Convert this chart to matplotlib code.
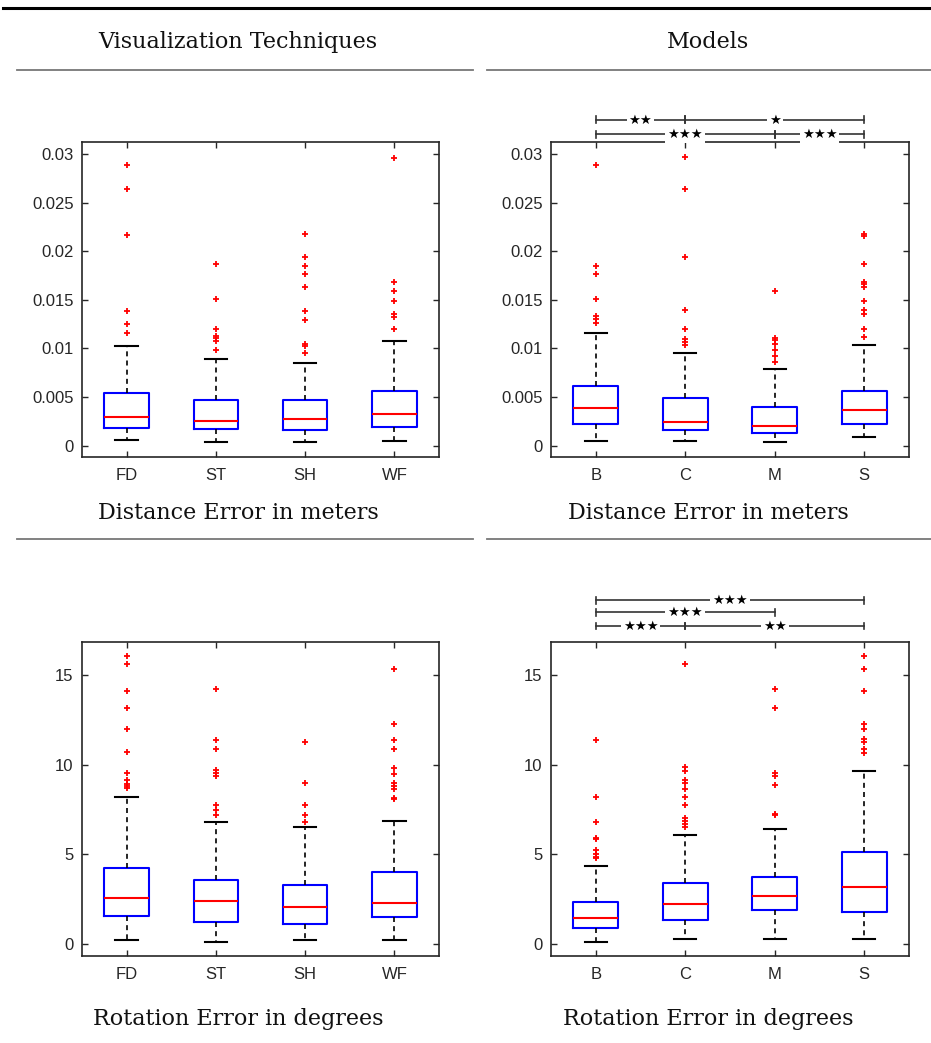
import matplotlib
matplotlib.use("Agg")
import matplotlib.pyplot as plt
from matplotlib.lines import Line2D
from matplotlib.transforms import blended_transform_factory

# ── Data ──────────────────────────────────────────────────────────────────────
tech_labels  = ["FD", "ST", "SH", "WF"]
model_labels = ["B", "C", "M", "S"]

# distance error (m) by visualization technique
dist_tech_med    = [0.00295, 0.00257, 0.00278, 0.00326]
dist_tech_q1     = [0.00178, 0.00175, 0.00165, 0.00189]
dist_tech_q3     = [0.00545, 0.00470, 0.00473, 0.00566]
dist_tech_whislo = [0.00055, 0.00034, 0.00034, 0.00048]
dist_tech_whishi = [0.01025, 0.00888, 0.00847, 0.01080]
dist_tech_fliers = [
    [0.02883, 0.02637, 0.02163, 0.01389, 0.01255, 0.01159],
    [0.01865, 0.01512, 0.01197, 0.01125, 0.01104, 0.01080, 0.00984],
    [0.02174, 0.01944, 0.01845, 0.01762, 0.01629, 0.01389, 0.01289,
     0.01046, 0.01029, 0.00950],
    [0.02962, 0.01680, 0.01587, 0.01485, 0.01358, 0.01323, 0.01200],
]

# distance error (m) by model
dist_model_med    = [0.00391, 0.00247, 0.00206, 0.00363]
dist_model_q1     = [0.00226, 0.00165, 0.00130, 0.00223]
dist_model_q3     = [0.00617, 0.00494, 0.00401, 0.00562]
dist_model_whislo = [0.00051, 0.00048, 0.00034, 0.00093]
dist_model_whishi = [0.01162, 0.00953, 0.00785, 0.01039]
dist_model_fliers = [
    [0.02883, 0.01848, 0.01762, 0.01512, 0.01334, 0.01303, 0.01262],
    [0.02966, 0.02637, 0.01944, 0.01392, 0.01200, 0.01094, 0.01063, 0.01039],
    [0.01591, 0.01111, 0.01090, 0.01049, 0.00987, 0.00926, 0.00857],
    [0.02174, 0.02160, 0.01865, 0.01687, 0.01663, 0.01629, 0.01485,
     0.01399, 0.01358, 0.01197, 0.01114],
]

# rotation error (deg) by visualization technique
rot_tech_med    = [2.56, 2.39, 2.07, 2.30]
rot_tech_q1     = [1.59, 1.21, 1.14, 1.49]
rot_tech_q3     = [4.24, 3.57, 3.29, 4.04]
rot_tech_whislo = [0.24, 0.11, 0.21, 0.24]
rot_tech_whishi = [8.20, 6.82, 6.54, 6.87]
rot_tech_fliers = [
    [16.08, 15.62, 14.14, 13.19, 12.01, 10.72, 9.53, 9.17, 8.91, 8.80, 8.69],
    [14.25, 11.38, 10.87, 9.70, 9.55, 9.36, 7.77, 7.47, 7.23],
    [11.28, 8.99, 7.77, 7.19, 6.80],
    [15.36, 12.31, 11.41, 10.91, 9.84, 9.47, 8.99, 8.84, 8.65, 8.18, 8.09],
]

# rotation error (deg) by model
rot_model_med    = [1.46, 2.24, 2.69, 3.19]
rot_model_q1     = [0.88, 1.33, 1.91, 1.77]
rot_model_q3     = [2.35, 3.40, 3.74, 5.14]
rot_model_whislo = [0.13, 0.28, 0.28, 0.26]
rot_model_whishi = [4.37, 6.09, 6.43, 9.68]
rot_model_fliers = [
    [11.38, 8.20, 6.82, 5.90, 5.87, 5.25, 5.01, 4.88, 4.78],
    [15.62, 9.86, 9.68, 9.17, 9.02, 8.67, 8.20, 7.77, 7.02, 6.89, 6.69, 6.52],
    [14.25, 13.19, 9.55, 9.36, 8.89, 7.27, 7.19],
    [16.07, 15.36, 14.12, 12.31, 11.99, 11.43, 11.28, 10.89, 10.69],
]

# pairwise significance: (group a, group b, stars)
dist_model_sig = [[(1, 2, 2), (2, 4, 1)], [(1, 3, 3), (3, 4, 3)]]
rot_model_sig  = [[(1, 2, 3), (2, 4, 2)], [(1, 3, 3)], [(1, 4, 3)]]

# ── Style ─────────────────────────────────────────────────────────────────────
W, H = 931, 1043
AX_COL = "#262626"
RULE   = "#777777"
SERIF  = "DejaVu Serif"
SANS   = "Liberation Sans"
TXT_FS = 16


def fx(px):
    return px / W


def fy(py):
    return 1 - py / H


def make_stats(med, q1, q3, lo, hi, fl):
    return [dict(med=m, q1=a, q3=b, whislo=l, whishi=h, fliers=f)
            for m, a, b, l, h, f in zip(med, q1, q3, lo, hi, fl)]


def draw_panel(fig, rect_px, stats, labels, ylim, yticks, yticklabels):
    l, t, r, b = rect_px
    ax = fig.add_axes([fx(l), fy(b), fx(r - l), (b - t) / H])
    ax.bxp(stats, positions=range(1, len(stats) + 1), widths=0.5,
           capwidths=0.25, patch_artist=False,
           boxprops=dict(color="#0000ff", lw=1.5),
           medianprops=dict(color="#ff0000", lw=1.5),
           whiskerprops=dict(color="black", lw=1.2, ls=(0, (3, 2.5))),
           capprops=dict(color="black", lw=1.5),
           flierprops=dict(marker="+", markeredgecolor="#ff0000",
                           markersize=4, mew=1.3, ls="none"))
    ax.set_xlim(0.5, len(stats) + 0.5)
    ax.set_ylim(*ylim)
    ax.set_xticks(range(1, len(stats) + 1))
    ax.set_xticklabels(labels)
    ax.set_yticks(yticks)
    ax.set_yticklabels(yticklabels)
    ax.tick_params(direction="in", length=4, width=1, color=AX_COL,
                   labelcolor=AX_COL, labelsize=12,
                   top=True, right=True)
    ax.tick_params(axis="x", pad=8)
    ax.tick_params(axis="y", pad=6)
    for lab in ax.get_xticklabels() + ax.get_yticklabels():
        lab.set_family(SANS)
    for sp in ax.spines.values():
        sp.set_color(AX_COL)
        sp.set_linewidth(1.2)
    return ax


def draw_sig(ax, rows, y_rows):
    tr = blended_transform_factory(ax.transData, ax.transAxes)
    tick = 0.011
    for row, y in zip(rows, y_rows):
        for a, b, n in row:
            ax.add_line(Line2D([a, b], [y, y], transform=tr, color="#333333",
                               lw=1.2, clip_on=False, zorder=3))
            for x in (a, b):
                ax.add_line(Line2D([x, x], [y - tick, y + tick], transform=tr,
                                   color="#333333", lw=1.2, clip_on=False,
                                   zorder=3))
            ax.text((a + b) / 2, y, "\u2605" * n, transform=tr,
                    ha="center", va="center", fontsize=9.5,
                    family="DejaVu Sans", color="black", clip_on=False,
                    zorder=4,
                    bbox=dict(boxstyle="square,pad=0.15", fc="white",
                              ec="none"))


fig = plt.figure(figsize=(W / 100, H / 100), dpi=100)

# table rules
fig.add_artist(Line2D([fx(3), fx(931)], [fy(8), fy(8)], color="black", lw=2.2))
for y in (70, 539):
    fig.add_artist(Line2D([fx(17), fx(473)], [fy(y), fy(y)], color=RULE, lw=1.3))
    fig.add_artist(Line2D([fx(487), fx(931)], [fy(y), fy(y)], color=RULE, lw=1.3))

# headers and captions
for cx in (238, 708):
    fig.text(fx(cx), fy(513), "Distance Error in meters", ha="center",
             va="center", family=SERIF, fontsize=TXT_FS, color="#111111")
    fig.text(fx(cx), fy(1019), "Rotation Error in degrees", ha="center",
             va="center", family=SERIF, fontsize=TXT_FS, color="#111111")
fig.text(fx(238), fy(42), "Visualization Techniques", ha="center",
         va="center", family=SERIF, fontsize=TXT_FS, color="#111111")
fig.text(fx(708), fy(42), "Models", ha="center",
         va="center", family=SERIF, fontsize=TXT_FS, color="#111111")

dist_ylim = (-0.00116, 0.03124)
dist_ticks = [0, 0.005, 0.01, 0.015, 0.02, 0.025, 0.03]
dist_ticklabels = ["0", "0.005", "0.01", "0.015", "0.02", "0.025", "0.03"]
rot_ylim = (-0.67, 16.87)
rot_ticks = [0, 5, 10, 15]
rot_ticklabels = ["0", "5", "10", "15"]

draw_panel(fig, (82, 142, 439, 457),
           make_stats(dist_tech_med, dist_tech_q1, dist_tech_q3,
                      dist_tech_whislo, dist_tech_whishi, dist_tech_fliers),
           tech_labels, dist_ylim, dist_ticks, dist_ticklabels)

ax_dm = draw_panel(fig, (551, 142, 909, 457),
                   make_stats(dist_model_med, dist_model_q1, dist_model_q3,
                              dist_model_whislo, dist_model_whishi,
                              dist_model_fliers),
                   model_labels, dist_ylim, dist_ticks, dist_ticklabels)
draw_sig(ax_dm, dist_model_sig, [1.07, 1.025])

draw_panel(fig, (82, 642, 439, 956),
           make_stats(rot_tech_med, rot_tech_q1, rot_tech_q3,
                      rot_tech_whislo, rot_tech_whishi, rot_tech_fliers),
           tech_labels, rot_ylim, rot_ticks, rot_ticklabels)

ax_rm = draw_panel(fig, (551, 642, 909, 956),
                   make_stats(rot_model_med, rot_model_q1, rot_model_q3,
                              rot_model_whislo, rot_model_whishi,
                              rot_model_fliers),
                   model_labels, rot_ylim, rot_ticks, rot_ticklabels)
draw_sig(ax_rm, rot_model_sig, [1.051, 1.094, 1.133])

fig.savefig("out.png", dpi=100, facecolor="white")
